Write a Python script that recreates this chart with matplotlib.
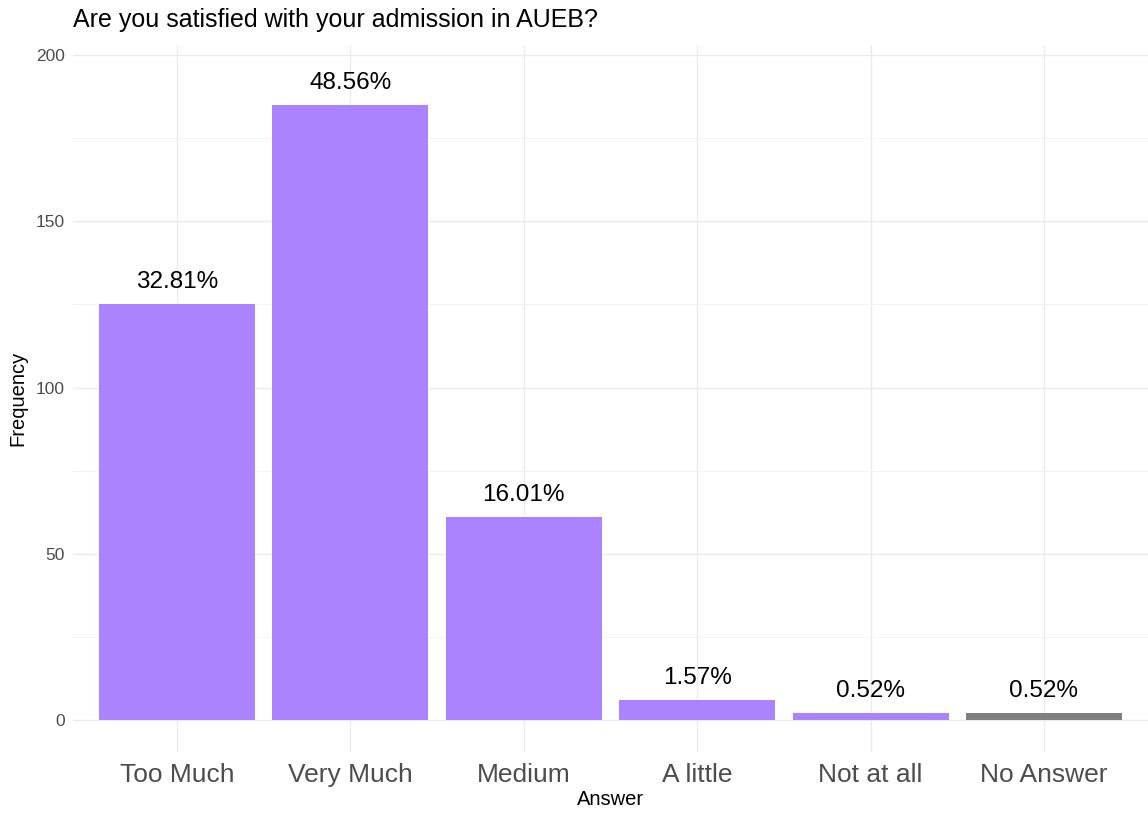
import matplotlib.pyplot as plt
from matplotlib.ticker import MultipleLocator

answers = ['Too Much', 'Very Much', 'Medium', 'A little', 'Not at all', 'No Answer']
counts = [125, 185, 61, 6, 2, 2]
pct_labels = ['32.81%', '48.56%', '16.01%', '1.57%', '0.52%', '0.52%']
bar_colors = ['#AB82FF'] * 5 + ['#7F7F7F']

plt.rcParams['font.family'] = ['Liberation Sans', 'DejaVu Sans']

fig = plt.figure(figsize=(11.48, 8.14), dpi=100)
# panel from about x=73..1148, y=45..752 px
ax = fig.add_axes([73 / 1148, 1 - 752 / 814, (1148 - 73) / 1148, (752 - 45) / 814])

pos = list(range(1, len(answers) + 1))
bars = ax.bar(pos, counts, width=0.9, color=bar_colors, zorder=2)
for b, lab in zip(bars, pct_labels):
    ax.annotate(lab, (b.get_x() + b.get_width() / 2, b.get_height()),
                xytext=(0, 8), textcoords='offset points',
                ha='center', va='bottom', fontsize=17.5, color='black')

ax.set_xlim(0.4, 6.6)
ax.set_ylim(-9.6, 203)
ax.set_xticks(pos)
ax.set_xticklabels(answers, fontsize=19, color='#4D4D4D')
ax.yaxis.set_major_locator(MultipleLocator(50))
ax.yaxis.set_minor_locator(MultipleLocator(25))
ax.tick_params(axis='y', labelsize=12.5, colors='#4D4D4D', pad=6)
ax.tick_params(axis='both', which='both', length=0)
ax.tick_params(axis='x', pad=8)
ax.grid(which='major', color='#EBEBEB', linewidth=1.0, zorder=0)
ax.grid(which='minor', axis='y', color='#F2F2F2', linewidth=0.6, zorder=0)
for s in ax.spines.values():
    s.set_visible(False)

ax.set_xlabel('Answer', fontsize=14.5, labelpad=2)
ax.set_ylabel('Frequency', fontsize=14.5, labelpad=6)
fig.text(73 / 1148, 1 - 20 / 814, 'Are you satisfied with your admission in AUEB?',
         fontsize=18, ha='left', va='center')

fig.savefig('out.png', dpi=100)
